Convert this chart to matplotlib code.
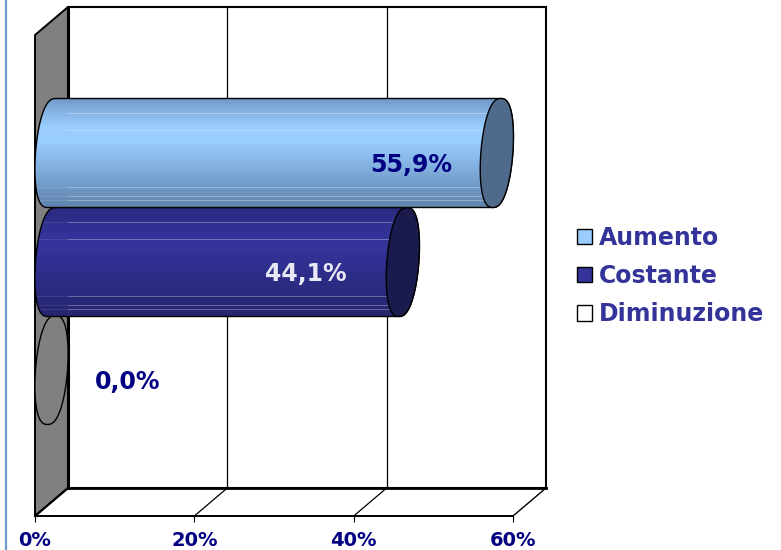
import numpy as np
import matplotlib
matplotlib.use("Agg")
import matplotlib.pyplot as plt
from matplotlib.patches import Polygon, Patch, PathPatch
from matplotlib.path import Path
from matplotlib.colors import to_rgb

categories = ['Aumento', 'Costante', 'Diminuzione']
values = [55.9, 44.1, 0.0]
value_labels = ['55,9%', '44,1%', '0,0%']
xticks = [0, 20, 40, 60]
xticklabels = ['0%', '20%', '40%', '60%']

# y is kept in image pixels (ylim 516..35), x in percent
row_y = [153, 262, 370]
row_half = 54.5
label_x = [47.2, 34.0, 11.6]
label_y = [165, 274, 382]
label_col = ['#000080', '#e8e8f4', '#000080']
body_top = ['#6f9ac8', '#2a2a80', '#808080']
body_mid = ['#99ccff', '#333399', '#808080']
body_bot = ['#5f84ad', '#25256f', '#808080']
cap_col = ['#4f6a8a', '#1a1a4d', '#808080']
leg_col = ['#99ccff', '#333399', '#ffffff']
streaks = [15, 32, 89, 98, 102]

W, H = 781, 550
fig = plt.figure(figsize=(W / 100, H / 100), dpi=100)
ax = fig.add_axes([35 / W, 1 - 516 / H, 478 / W, 481 / H])

pp = 60 / 478  # percent per pixel
dx = 33 * pp
ex = 16.5 * pp


def ellipse(cx, cy, t):
    # end of the cylinder, tilted by the 3D view, a bit fuller than a true ellipse
    c = np.cos(t)
    return (cx + 16 * pp * np.sign(c) * np.abs(c) ** 0.8 + 4 * pp * np.sin(t),
            cy - row_half * np.sin(t))


def gradient(i, streak):
    n = int(row_half * 2)
    stops = [0, 0.25, 0.4, 1]
    cols = [body_top[i], body_mid[i], body_mid[i], body_bot[i]]
    rgb = np.array([to_rgb(c) for c in cols])
    u = np.linspace(0, 1, n)
    img = np.stack([np.interp(u, stops, rgb[:, k]) for k in range(3)], axis=1)
    for s in streaks:
        img[s] = img[s] + (1 - img[s]) * streak
    return img[:, None, :]


# walls
ax.add_patch(Polygon([(0, 35), (dx, 7), (dx, 488), (0, 516)], closed=True, fc='#808080',
                     ec='black', lw=1.4, clip_on=False, zorder=1))
ax.add_patch(Polygon([(dx, 7), (60 + dx, 7), (60 + dx, 488), (dx, 488)], closed=True, fc='white',
                     ec='black', lw=1.5, clip_on=False, zorder=1))
ax.plot([dx, dx], [7, 488], color='black', lw=2.2, clip_on=False, zorder=1.5)
ax.plot([dx, dx + 60], [488, 488], color='black', lw=2, clip_on=False, zorder=1.5)
ax.plot([0, dx], [516, 488], color='black', lw=1.5, clip_on=False, zorder=1.5)
ax.plot([60, 60 + dx], [516, 488], color='black', lw=1, clip_on=False, zorder=1.5)
for t in xticks[1:3]:
    ax.plot([t + dx, t + dx], [7, 488], color='black', lw=0.9, clip_on=False, zorder=1.2)
    ax.plot([t, t + dx], [516, 488], color='black', lw=0.9, clip_on=False, zorder=1.2)

# cylinders, lowest first so the upper ones lie over them
for i in [2, 1, 0]:
    cx0 = dx / 2
    cx1 = cx0 + values[i]
    cy = row_y[i]
    z = 3 + (2 - i)
    if values[i] > 0:
        lx, ly = ellipse(cx0, cy, np.linspace(np.pi / 2, 3 * np.pi / 2, 40))
        rx, ry = ellipse(cx1, cy, np.linspace(-np.pi / 2, np.pi / 2, 40))
        verts = list(zip(lx, ly)) + list(zip(rx, ry)) + [(lx[0], ly[0])]
        codes = [Path.MOVETO] + [Path.LINETO] * (len(verts) - 2) + [Path.CLOSEPOLY]
        outline = PathPatch(Path(verts, codes), fc='none', ec='black', lw=1.0,
                            clip_on=False, zorder=z + 0.2)
        ax.add_patch(outline)
        clip = PathPatch(Path(verts, codes), transform=ax.transData)
        left = ax.imshow(gradient(i, 0.1), extent=[-ex, dx, cy + row_half, cy - row_half],
                         aspect='auto', interpolation='nearest', zorder=z)
        right = ax.imshow(gradient(i, 0.3), extent=[dx, cx1 + ex, cy + row_half, cy - row_half],
                          aspect='auto', interpolation='nearest', zorder=z)
        left.set_clip_path(clip)
        right.set_clip_path(clip)
    tx, ty = ellipse(cx1, cy, np.linspace(0, 2 * np.pi, 80))
    ax.fill(tx, ty, fc=cap_col[i], ec='black', lw=1.0, clip_on=False, zorder=z + 0.3)
    ax.text(label_x[i], label_y[i], value_labels[i], color=label_col[i], fontsize=17,
            fontweight='bold', ha='center', va='center', zorder=10)

ax.set_xlim(0, 60)
ax.set_ylim(516, 35)
ax.set_yticks([])
ax.set_xticks(xticks)
ax.set_xticklabels(xticklabels, color='#000080', fontsize=14, fontweight='bold')
ax.tick_params(axis='x', length=4.5, width=0.8, pad=6)
for s in ['top', 'left', 'right']:
    ax.spines[s].set_visible(False)
ax.spines['bottom'].set_linewidth(1.4)
ax.patch.set_visible(False)

# page edge on the left
fig.add_artist(plt.Line2D([6 / W, 6 / W], [0, 1], color='#6c9bcb', lw=1.6))

handles = [Patch(fc=c, ec='black', lw=1.0) for c in leg_col]
leg = fig.legend(handles, categories, loc='center left', bbox_to_anchor=(577 / W, 1 - 276 / H),
                 frameon=False, prop={'size': 17, 'weight': 'bold'}, labelcolor='#333399',
                 handlelength=0.62, handleheight=0.62, handletextpad=0.3,
                 labelspacing=0.6, borderpad=0, borderaxespad=0)

fig.savefig('out.png', dpi=100)
